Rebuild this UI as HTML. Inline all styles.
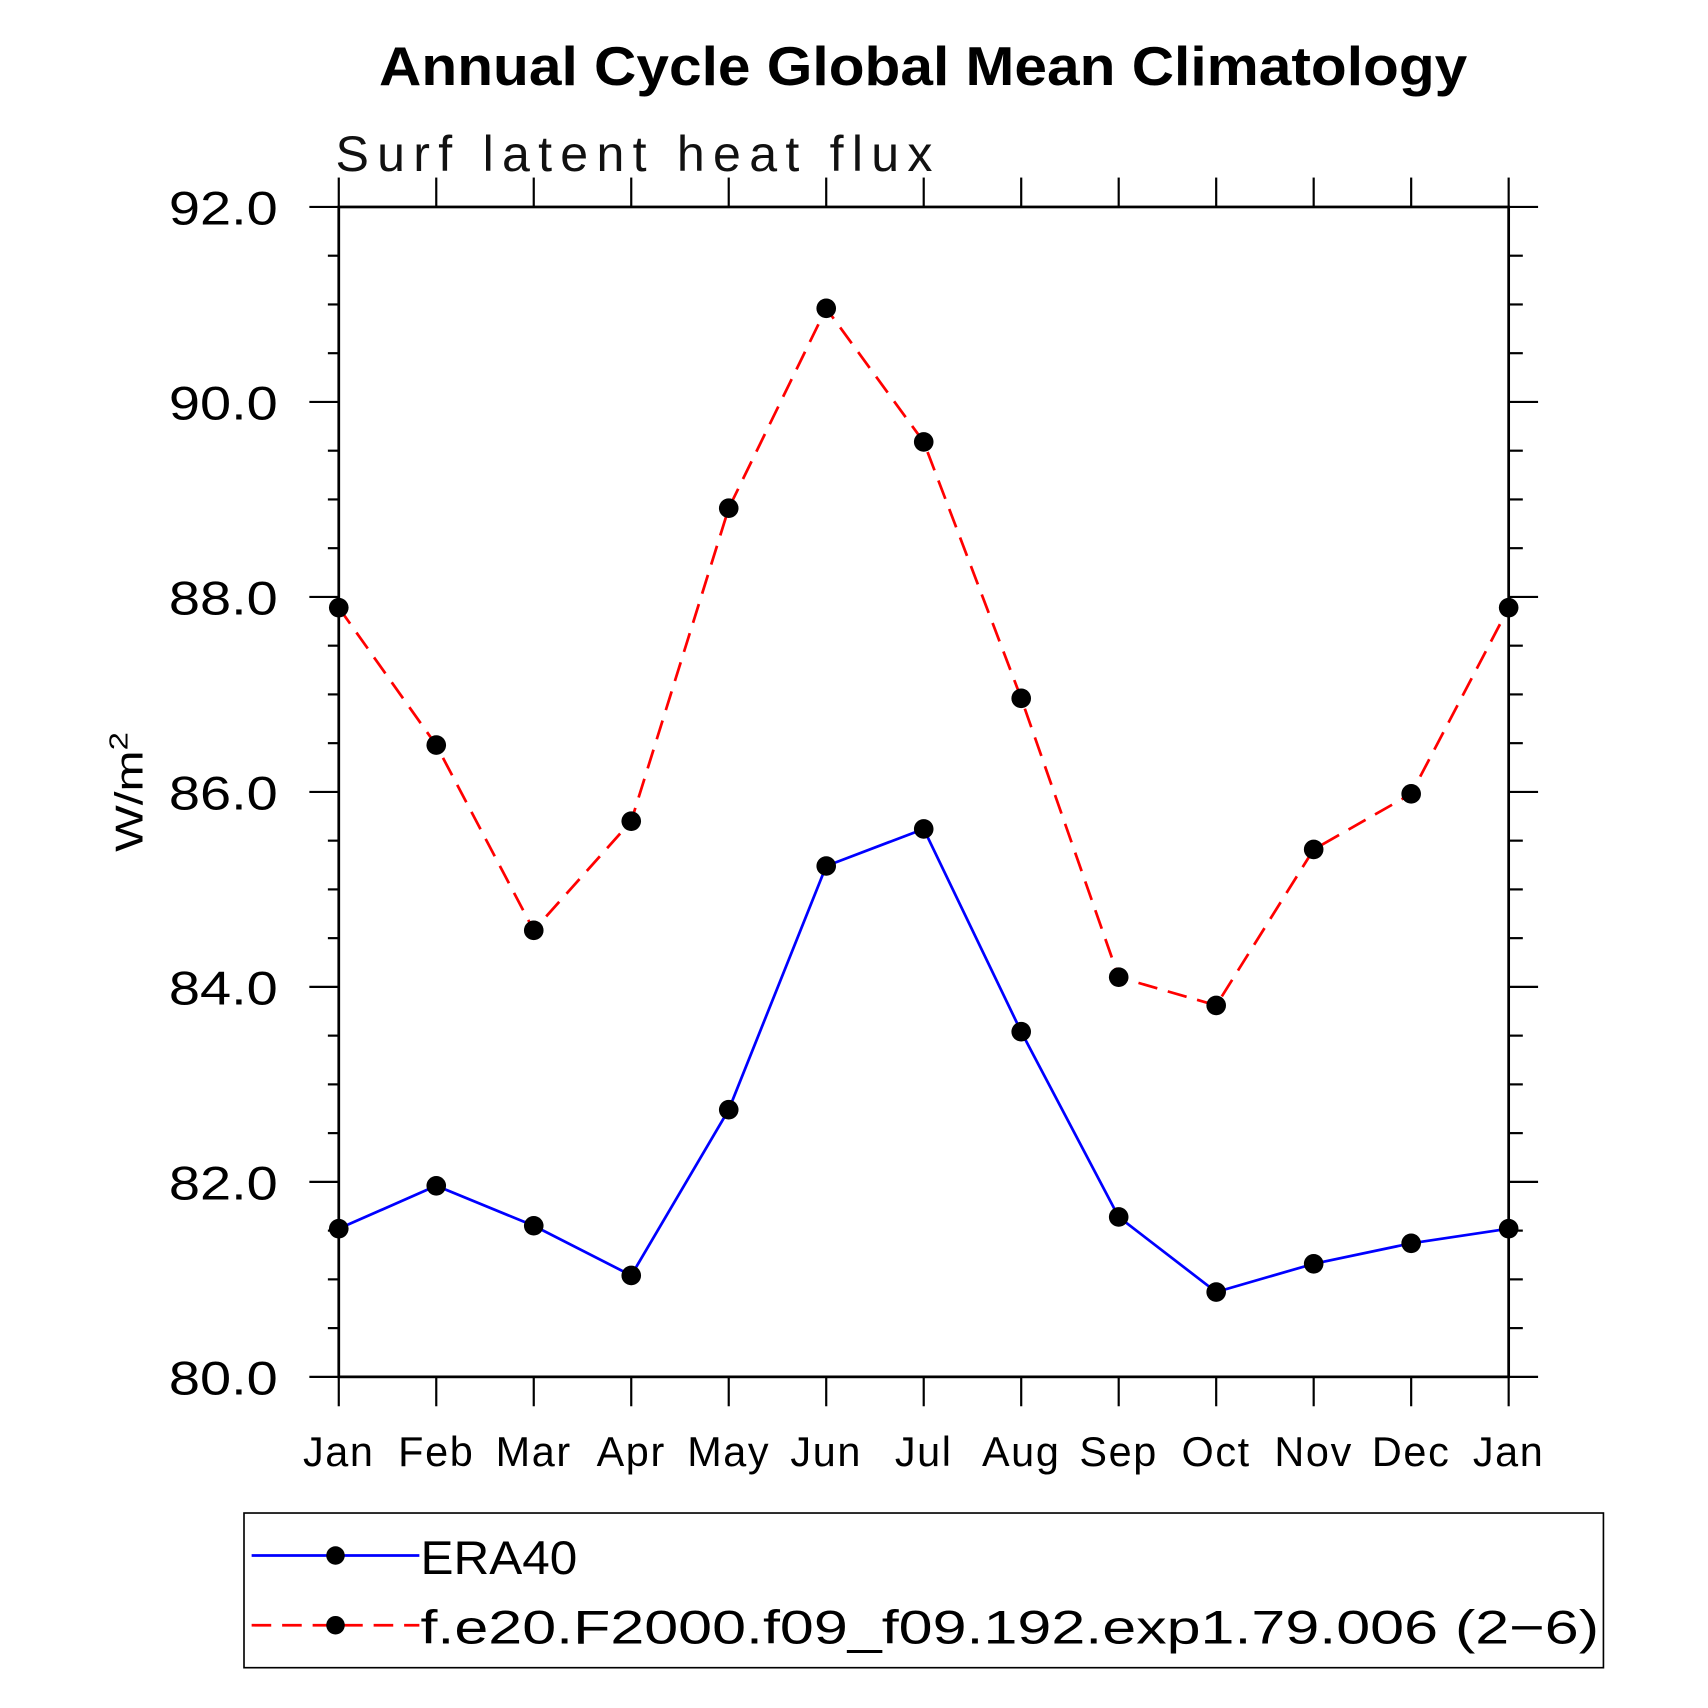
<!DOCTYPE html>
<html><head><meta charset="utf-8"><style>
html,body{margin:0;padding:0;background:#fff;}
svg{display:block;}
text{font-family:"Liberation Sans",sans-serif;}
</style></head><body>
<svg id="chart" width="1708" height="1708" viewBox="0 0 1568 1568" xmlns="http://www.w3.org/2000/svg">
<rect width="1568" height="1568" fill="#fff"/>
<text x="348" y="78" font-size="50" font-weight="bold" textLength="999" lengthAdjust="spacingAndGlyphs">Annual Cycle Global Mean Climatology</text>
<text x="308" y="157" font-size="46" font-weight="300" textLength="548" lengthAdjust="spacing" fill="#111">Surf latent heat flux</text>
<text transform="translate(131,782) rotate(-90)" font-size="36" font-weight="300" textLength="110" lengthAdjust="spacingAndGlyphs">W/m<tspan dy="-14" font-size="24">2</tspan></text>
<g id="axes"></g>
<g id="series"></g>
<g id="legend">
<rect x="224" y="1389" width="1248" height="142" fill="none" stroke="#000" stroke-width="1.5"/>
<line x1="231" y1="1428" x2="385" y2="1428" stroke="#0000ff" stroke-width="2.5"/>
<circle cx="308" cy="1428" r="8.5" fill="#000"/>
<text x="386" y="1445" font-size="43" font-weight="300" textLength="144" lengthAdjust="spacingAndGlyphs">ERA40</text>
<line x1="231" y1="1492" x2="385" y2="1492" stroke="#ff0000" stroke-width="2.5" stroke-dasharray="18,10"/>
<circle cx="308" cy="1492" r="8.5" fill="#000"/>
<text x="386" y="1509" font-size="43" font-weight="300" textLength="1082" lengthAdjust="spacingAndGlyphs">f.e20.F2000.f09_f09.192.exp1.79.006 (2−6)</text>
</g>
</svg>
<script>
const months = ["Jan","Feb","Mar","Apr","May","Jun","Jul","Aug","Sep","Oct","Nov","Dec","Jan"];
const era40 = [81.52,81.96,81.55,81.04,82.74,85.24,85.62,83.54,81.64,80.87,81.16,81.37,81.52];
const model = [87.89,86.48,84.58,85.70,88.91,90.96,89.59,86.96,84.10,83.81,85.41,85.98,87.89];
const yTicks = [80,82,84,86,88,90,92];
const yTickLabels = ["80.0","82.0","84.0","86.0","88.0","90.0","92.0"];

const NS = "http://www.w3.org/2000/svg";
const X0 = 311, X1 = 1385, Y0 = 1264, Y1 = 190, YMIN = 80, YMAX = 92;
function xs(i){ return X0 + (X1 - X0) * i / (months.length - 1); }
function ys(v){ return Y0 - (Y0 - Y1) * (v - YMIN) / (YMAX - YMIN); }
function mk(tag, attrs, parent){ const e = document.createElementNS(NS, tag); for (const k in attrs) e.setAttribute(k, attrs[k]); parent.appendChild(e); return e; }

const axes = document.getElementById('axes');
const frame = mk('rect', {x:X0, y:Y1, width:X1-X0, height:Y0-Y1, fill:'none', stroke:'#000', 'stroke-width':2.5}, axes);



for (let v = YMIN; v <= YMAX + 1e-9; v += 0.5) {
  const y = ys(v);
  const major = Math.abs(v - Math.round(v / 2) * 2) < 1e-9;
  const len = major ? 27 : 10;
  const tl = mk('line', {x1:X0-len, y1:y, x2:X0, y2:y, stroke:'#000', 'stroke-width':2}, axes);
  
  
  const tr = mk('line', {x1:X1, y1:y, x2:X1+(major?27:13), y2:y, stroke:'#000', 'stroke-width':2}, axes);
  
  
}
yTicks.forEach((v, i) => {
  const t = mk('text', {x:155, y:ys(v)+16, 'font-size':43, 'font-weight':300, textLength:100, lengthAdjust:'spacingAndGlyphs'}, axes);
  t.textContent = yTickLabels[i];
  
  
});
months.forEach((m, i) => {
  const x = xs(i);
  const tb = mk('line', {x1:x, y1:Y0, x2:x, y2:Y0+27, stroke:'#000', 'stroke-width':2}, axes);
  
  
  const tt = mk('line', {x1:x, y1:Y1-27, x2:x, y2:Y1, stroke:'#000', 'stroke-width':2}, axes);
  
  
  const t = mk('text', {x:x, y:1346, 'text-anchor':'middle', 'font-size':38, 'font-weight':300, 'letter-spacing':1.5}, axes);
  t.textContent = m;
  
  
});

const series = document.getElementById('series');
function drawSeries(vals, color, dash, name) {
  const pts = vals.map((v, i) => xs(i) + ',' + ys(v)).join(' ');
  const pl = mk('polyline', {points:pts, fill:'none', stroke:color, 'stroke-width':2.5, 'stroke-dasharray':dash}, series);
  
  
  vals.forEach((v, i) => {
    const c = mk('circle', {cx:xs(i), cy:ys(v), r:9, fill:'#000'}, series);
    
    
  });
}
drawSeries(model, '#ff0000', '18,10', 'model');
drawSeries(era40, '#0000ff', 'none', 'era40');
</script>
</body></html>
